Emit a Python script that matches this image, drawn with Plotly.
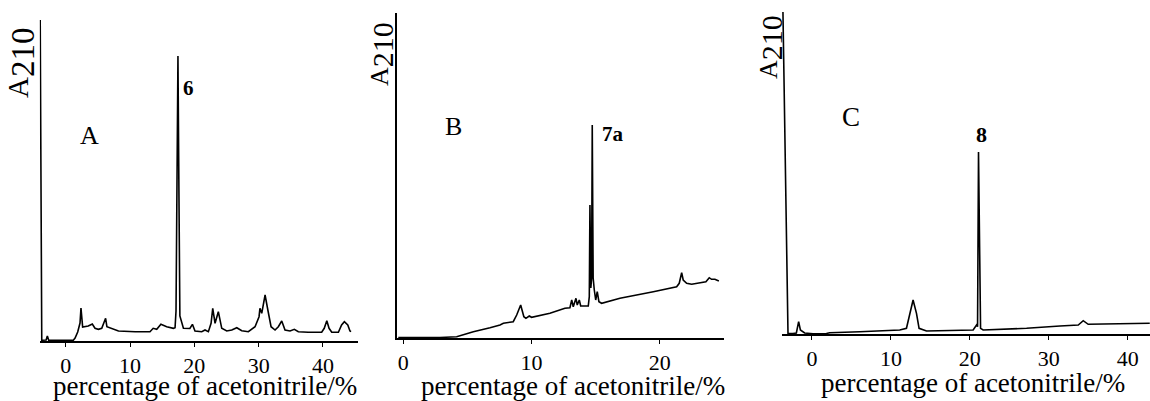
import plotly.graph_objects as go

# ---------------- data ----------------
# Panel A: x = percentage of acetonitrile, y = A210 (arbitrary units)
a_x = [-3.97, -3.73, -3.6, -3.05, -2.86, -2.65, 1.18, 1.45, 1.86, 2.22, 2.37, 2.63, 3.5, 4.13, 4.55,
       5.07, 5.6, 6.2, 6.4, 7.15, 8.2, 10.8, 13.1, 13.6, 14.15, 14.8, 15.7, 16.74, 17.0, 17.15,
       17.3, 17.45, 17.6, 17.75, 18.3, 19.3, 19.7, 20.1, 21.15, 21.66, 22.18, 22.6, 22.86, 23.22,
       23.73, 24.26, 25.04, 25.82, 26.6, 27.37, 28.4, 29.44, 30.06, 30.2, 30.48, 31.0, 31.43, 31.93,
       32.55, 33.06, 33.59, 34.1, 34.88, 35.55, 36.17, 37.7, 39.8, 40.2, 40.6, 40.95, 41.37, 42.4,
       42.9, 43.33, 43.86, 44.2, 44.37]
a_y = [321, 0.5, 0.8, 1.0, 5.0, 0.8, 0.8, 3, 9, 18, 33, 14, 15, 17, 12.7,
       11.7, 12.7, 22.7, 14.3, 12.7, 10, 9.3, 9.3, 12.7, 11.7, 16.7, 14.3, 12.7, 13.3, 30,
       180, 285, 150, 25, 12.7, 12.5, 16.7, 10, 9.3, 11, 9.3, 17.7, 32.7, 17.7,
       29.3, 12.7, 10, 11, 13.3, 10.3, 9.3, 14.3, 24.3, 32.7, 27.7, 46, 31, 14.3,
       11, 14.3, 20, 11, 10, 11.7, 9.3, 8.7, 8.7, 12.7, 20.3, 12.7, 8.7, 8.7,
       16, 19.3, 16, 10, 9.3]

# Panel B
b_x = [-0.39, 2.86, 4.16, 5.46, 6.76, 7.54, 7.8, 8.32, 8.57, 8.84, 9.15, 9.4, 9.56, 9.82, 10.0,
       11.43, 12.6, 12.99, 13.13, 13.25, 13.46, 13.56, 13.72, 13.83, 14.42, 14.5, 14.55, 14.62,
       14.68, 14.73, 14.8, 14.89, 15.0, 15.12, 15.25, 15.46, 16.89, 19.49, 21.31, 21.51, 21.7,
       21.82, 22.09, 22.48, 23.26, 23.59, 23.85, 24.03, 24.29, 24.6]
b_y = [0.5, 0.5, 1.3, 6.3, 10.3, 13, 14.7, 15.3, 16.3, 23, 33, 21.3, 19.7, 22, 20.7,
       24.7, 29.7, 30.3, 38, 31.3, 39.7, 33, 38, 32, 32, 41.3, 133, 50,
       60, 213, 60, 48, 38, 46.3, 36.3, 34.7, 39.7, 46.3, 51.3, 54.7, 65.3,
       58, 54.7, 53.7, 55.3, 56.3, 60.3, 58.7, 58.7, 57]

# Panel C
c_x = [-3.68, -3.04, -2.41, -1.98, -1.69, -1.47, -0.93, 0.13, 1.83, 2.24, 6.05, 9.86, 11.12, 11.97,
       12.39, 12.81, 13.24, 13.57, 14.51, 20.42, 20.85, 20.98, 21.1, 21.36, 21.69, 27.19, 31.42,
       33.74, 34.37, 35.0, 42.8]
c_y = [322, 0.5, 0.5, 1, 12.3, 4, 1, 0.3, 0.5, 1.3, 2.3, 4, 4, 5.7,
       19, 34, 20.7, 5.7, 3, 4, 9, 7.3, 182, 5.7, 4, 5.7, 8,
       9, 13.3, 9.7, 10.7]

a_ticks = [0, 10, 20, 30, 40]
b_ticks = [0, 10, 20]
c_ticks = [0, 10, 20, 30, 40]

panel_letters = ["A", "B", "C"]
peak_labels = ["6", "7a", "8"]
x_title = "percentage of acetonitrile/%"

# ---------------- layout helpers ----------------
W, H = 1150, 401
FONT = "Liberation Serif"


def px(x):
    return x / W


def py(y):
    return 1 - y / H


fig = go.Figure()
line = dict(color="black", width=1.6)
fig.add_trace(go.Scatter(x=a_x, y=a_y, mode="lines", line=line, xaxis="x", yaxis="y", showlegend=False))
fig.add_trace(go.Scatter(x=b_x, y=b_y, mode="lines", line=line, xaxis="x2", yaxis="y2", showlegend=False))
fig.add_trace(go.Scatter(x=c_x, y=c_y, mode="lines", line=line, xaxis="x3", yaxis="y3", showlegend=False))


def xax(domain, rng, ticks, anchor):
    return dict(domain=domain, range=rng, anchor=anchor, showgrid=False, zeroline=False,
                showline=True, linecolor="black", linewidth=1.6,
                ticks="outside", ticklen=4, tickwidth=1.3, tickcolor="black",
                tickvals=ticks, ticktext=[str(t) for t in ticks],
                tickfont=dict(family=FONT, size=22, color="black"))


def yax(domain, rng, anchor, show):
    return dict(domain=domain, range=rng, anchor=anchor, showgrid=False, zeroline=False,
                showline=show, linecolor="black", linewidth=1.6, showticklabels=False, ticks="")


fig.update_layout(
    width=W, height=H, margin=dict(l=0, r=0, t=0, b=0),
    paper_bgcolor="white", plot_bgcolor="white",
    xaxis=xax([px(39.7), px(358)], [-4.05, 45.45], a_ticks, "y"),
    yaxis=yax([py(341), py(20)], [0, 321], "x", False),
    xaxis2=xax([px(397), px(724)], [-0.49, 25.0], b_ticks, "y2"),
    yaxis2=yax([py(338), py(13)], [0, 325], "x2", True),
    xaxis3=xax([px(782), px(1150)], [-3.8, 42.83], c_ticks, "y3"),
    yaxis3=yax([py(334), py(11.7)], [0, 322.3], "x3", False),
)

ann = []


def add_text(text, x, y, size, bold=False, angle=0):
    t = "<b>%s</b>" % text if bold else text
    ann.append(dict(text=t, x=px(x), y=py(y), xref="paper", yref="paper", showarrow=False,
                    xanchor="center", yanchor="middle", textangle=angle,
                    font=dict(family=FONT, size=size, color="black")))


def a210(size):
    sub = int(round(size * 0.8 / 0.7))
    return "A<sub><span style='font-size:%dpx'>210</span></sub>" % sub


# axis titles
add_text(x_title, 205, 386, 27)
add_text(x_title, 573, 386, 27)
add_text(x_title, 973, 383, 27)
add_text(a210(29), 22, 63, 29, angle=-90)
add_text(a210(26), 382, 54, 26, angle=-90)
add_text(a210(26), 771, 47, 26, angle=-90)
# panel letters
add_text(panel_letters[0], 89, 135, 26)
add_text(panel_letters[1], 453, 127, 26)
add_text(panel_letters[2], 851, 117, 27)
# peak labels
add_text(peak_labels[0], 188, 88, 21, bold=True)
add_text(peak_labels[1], 613, 134, 21, bold=True)
add_text(peak_labels[2], 981, 134, 22, bold=True)

fig.update_layout(annotations=ann)
fig.write_html("out.html", config={"displayModeBar": False},
               post_script="document.body.style.margin='0';document.body.style.overflow='hidden';")
